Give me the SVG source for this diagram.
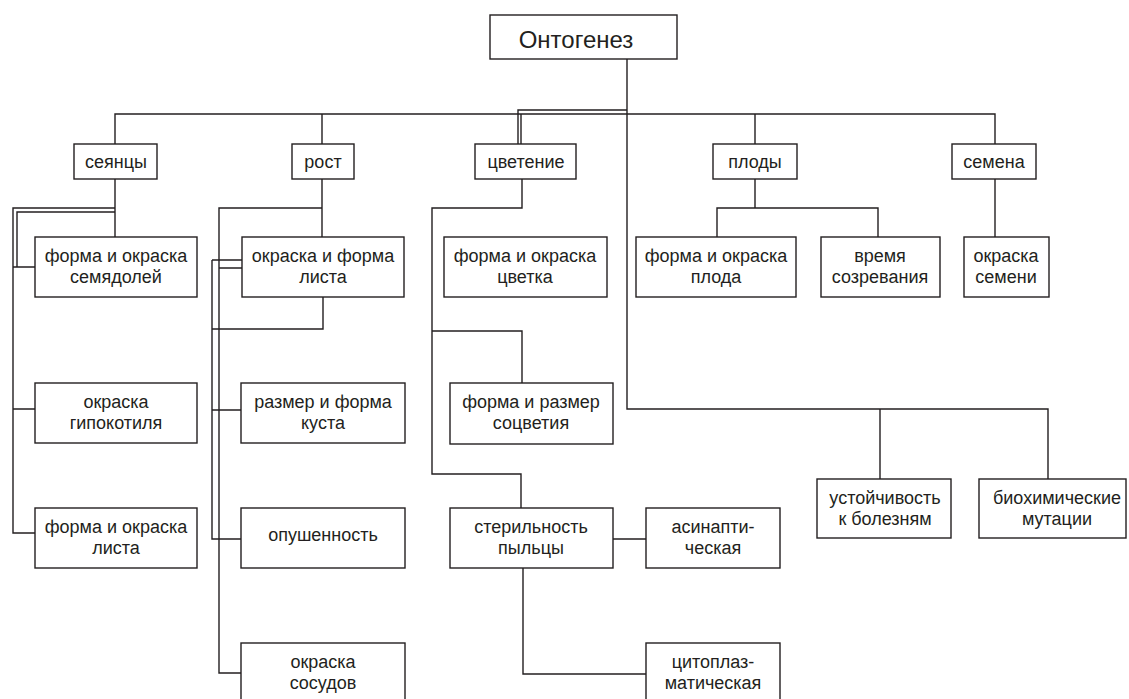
<svg xmlns="http://www.w3.org/2000/svg" width="1129" height="699" viewBox="0 0 1129 699">
<style>
.b{fill:#fff;stroke:#231f20;stroke-width:1.4}
.t{font-family:"Liberation Sans",Arial,sans-serif;font-size:18px;fill:#231f20;text-anchor:middle}
.c{fill:none;stroke:#231f20;stroke-width:1.4}
</style>
<rect width="1129" height="699" fill="#fff"/>
<g id="connectors">
<path class="c" d="M627,59V409H1048V479M880,409V479"/>
<path class="c" d="M115,144V114H995V144M322,114V144M521,114V144M755,114V144"/>
<path class="c" d="M518,144V110H627"/>
<path class="c" d="M115,179V237M115,208H13V533H35M115,212H17V267M13,267H35M13,409H35"/>
<path class="c" d="M322,179V237M322,208H219V673H241M212,260H242M212,260V539H241M219,268H242M323,297V329H212M212,410H241"/>
<path class="c" d="M522,179V208H432V474H521V508M432,331H522V383"/>
<path class="c" d="M613,539H646M523,568V674H646"/>
<path class="c" d="M755,179V208M717,237V208H878V237"/>
<path class="c" d="M995,179V237"/>
</g>
<g id="n-ontogenez"><rect class="b" x="490" y="15" width="187" height="44"/><text class="t" x="576" y="48" style="font-size:24px">Онтогенез</text></g>
<g id="n-seyantsy"><rect class="b" x="74" y="144" width="83" height="35"/><text class="t" x="116" y="168">сеянцы</text></g>
<g id="n-rost"><rect class="b" x="292" y="144" width="62" height="35"/><text class="t" x="323" y="168">рост</text></g>
<g id="n-tsvetenie"><rect class="b" x="475" y="144" width="101" height="35"/><text class="t" x="526" y="168">цветение</text></g>
<g id="n-plody"><rect class="b" x="713" y="144" width="84" height="35"/><text class="t" x="755" y="168">плоды</text></g>
<g id="n-semena"><rect class="b" x="952" y="144" width="84" height="35"/><text class="t" x="994" y="168">семена</text></g>
<g id="n-semyadoli"><rect class="b" x="35" y="237" width="162" height="60"/><text class="t" x="116" y="262">форма и окраска</text><text class="t" x="116" y="283">семядолей</text></g>
<g id="n-gipokotil"><rect class="b" x="35" y="383" width="162" height="60"/><text class="t" x="116" y="408">окраска</text><text class="t" x="116" y="429">гипокотиля</text></g>
<g id="n-list1"><rect class="b" x="35" y="508" width="162" height="60"/><text class="t" x="116" y="533">форма и окраска</text><text class="t" x="116" y="554">листа</text></g>
<g id="n-list2"><rect class="b" x="242" y="237" width="162" height="60"/><text class="t" x="323" y="262">окраска и форма</text><text class="t" x="323" y="283">листа</text></g>
<g id="n-kust"><rect class="b" x="241" y="383" width="164" height="60"/><text class="t" x="323" y="408">размер и форма</text><text class="t" x="323" y="429">куста</text></g>
<g id="n-opush"><rect class="b" x="241" y="508" width="164" height="60"/><text class="t" x="323" y="541">опушенность</text></g>
<g id="n-sosudy"><rect class="b" x="241" y="643" width="164" height="62"/><text class="t" x="323" y="668">окраска</text><text class="t" x="323" y="689">сосудов</text></g>
<g id="n-tsvetok"><rect class="b" x="444" y="237" width="163" height="60"/><text class="t" x="525" y="262">форма и окраска</text><text class="t" x="525" y="283">цветка</text></g>
<g id="n-sotsvetie"><rect class="b" x="450" y="383" width="163" height="61"/><text class="t" x="531" y="408">форма и размер</text><text class="t" x="531" y="429">соцветия</text></g>
<g id="n-steril"><rect class="b" x="450" y="508" width="163" height="60"/><text class="t" x="531" y="533">стерильность</text><text class="t" x="531" y="554">пыльцы</text></g>
<g id="n-asinapt"><rect class="b" x="646" y="508" width="134" height="60"/><text class="t" x="713" y="533">асинапти-</text><text class="t" x="713" y="554">ческая</text></g>
<g id="n-tsitopl"><rect class="b" x="646" y="643" width="134" height="62"/><text class="t" x="713" y="668">цитоплаз-</text><text class="t" x="713" y="689">матическая</text></g>
<g id="n-plod"><rect class="b" x="636" y="237" width="160" height="60"/><text class="t" x="716" y="262">форма и окраска</text><text class="t" x="716" y="283">плода</text></g>
<g id="n-vremya"><rect class="b" x="821" y="237" width="119" height="60"/><text class="t" x="880" y="262">время</text><text class="t" x="880" y="283">созревания</text></g>
<g id="n-semya"><rect class="b" x="964" y="237" width="85" height="60"/><text class="t" x="1006" y="262">окраска</text><text class="t" x="1006" y="283">семени</text></g>
<g id="n-ustoich"><rect class="b" x="817" y="479" width="134" height="59"/><text class="t" x="885" y="504">устойчивость</text><text class="t" x="885" y="525">к болезням</text></g>
<g id="n-biohim"><rect class="b" x="979" y="479" width="147" height="59"/><text class="t" x="1057" y="504">биохимические</text><text class="t" x="1057" y="525">мутации</text></g>
</svg>
